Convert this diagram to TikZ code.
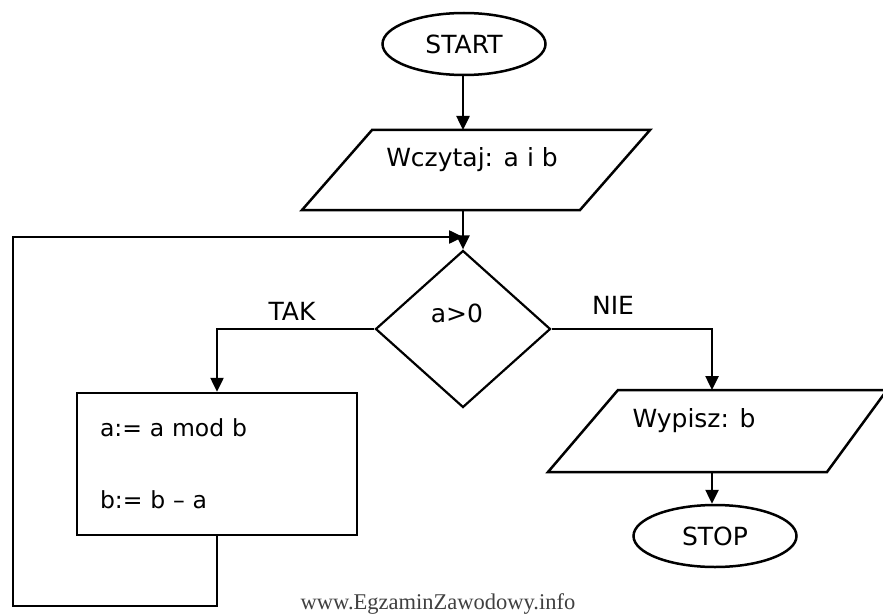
\documentclass[tikz,border=0pt]{standalone}
\usepackage{fontspec}
\setmainfont{DejaVu Sans}
\newfontfamily\wmfont{Liberation Serif}
\usetikzlibrary{shapes.geometric,arrows.meta}
\begin{document}
\begin{tikzpicture}[x=1pt,y=-1pt,
  line/.style={line width=2.5pt, line join=miter},
  flow/.style={line, -{Triangle[length=14pt,width=13pt]}},
  term/.style={ellipse, draw, line width=2.5pt, minimum width=163pt, minimum height=62pt, inner sep=0pt},
  txt/.style={font=\fontsize{25}{28}\selectfont, inner sep=0pt},
  decision/.style={diamond, draw, line width=2.2pt, minimum width=175pt, minimum height=157pt, inner sep=0pt},
  procbox/.style={draw, line width=2.5pt, minimum height=142pt, text width=234pt, inner xsep=23pt, inner ysep=0pt, align=left, font=\fontsize{23.5}{72}\selectfont},
  wmark/.style={font=\wmfont\fontsize{22.5}{26}\selectfont, text=black!75, anchor=base, inner sep=0pt}]
\fill[white] (0,0) rectangle (883,615);
\useasboundingbox (0,0) rectangle (883,615);

% START
\node[term, txt] (start) at (464,44) {START};

% input parallelogram
\coordinate (in1top) at (463,130);
\coordinate (in1bot) at (463,210);
\draw[line] (302,210) -- (580,210) -- (650,130) -- (372,130) -- cycle;
\node[txt] (in1) at (472,160) {Wczytaj: a i b};
\draw[flow] (start.south -| in1top) -- (in1top);

% decision
\node[decision] (dec) at (463,329) {};
\node[txt] (cond) at (457,313) {a>0};
\draw[flow] (in1bot) -- (dec.north);

% process box
\node[procbox] (box) at (217,464) {a:= a mod b\\b:= b – a};
\draw[flow] (dec.west) -| (box.north);

% loop back
\coordinate (loopc) at (13,606);
\coordinate (join) at (463,237);
\draw[flow] (box.south) |- (loopc) |- (join);

% output parallelogram
\coordinate (outtop) at (712,390);
\coordinate (outbot) at (712,472);
\draw[line] (548,472) -- (827,472) -- (887,390) -- (618,390) -- cycle;
\node[txt] (out) at (694,421) {Wypisz: b};
\draw[flow] (dec.east) -| (outtop);

% STOP
\node[term, txt] (stop) at (715,536) {STOP};
\draw[flow] (outbot) -- (outbot |- stop.north);

% branch labels
\node[txt] (tak) at (292,311) {TAK};
\node[txt] (nie) at (613,305) {NIE};

% watermark
\node[wmark] (wm) at (438,609) {www.EgzaminZawodowy.info};
\end{tikzpicture}
\end{document}
